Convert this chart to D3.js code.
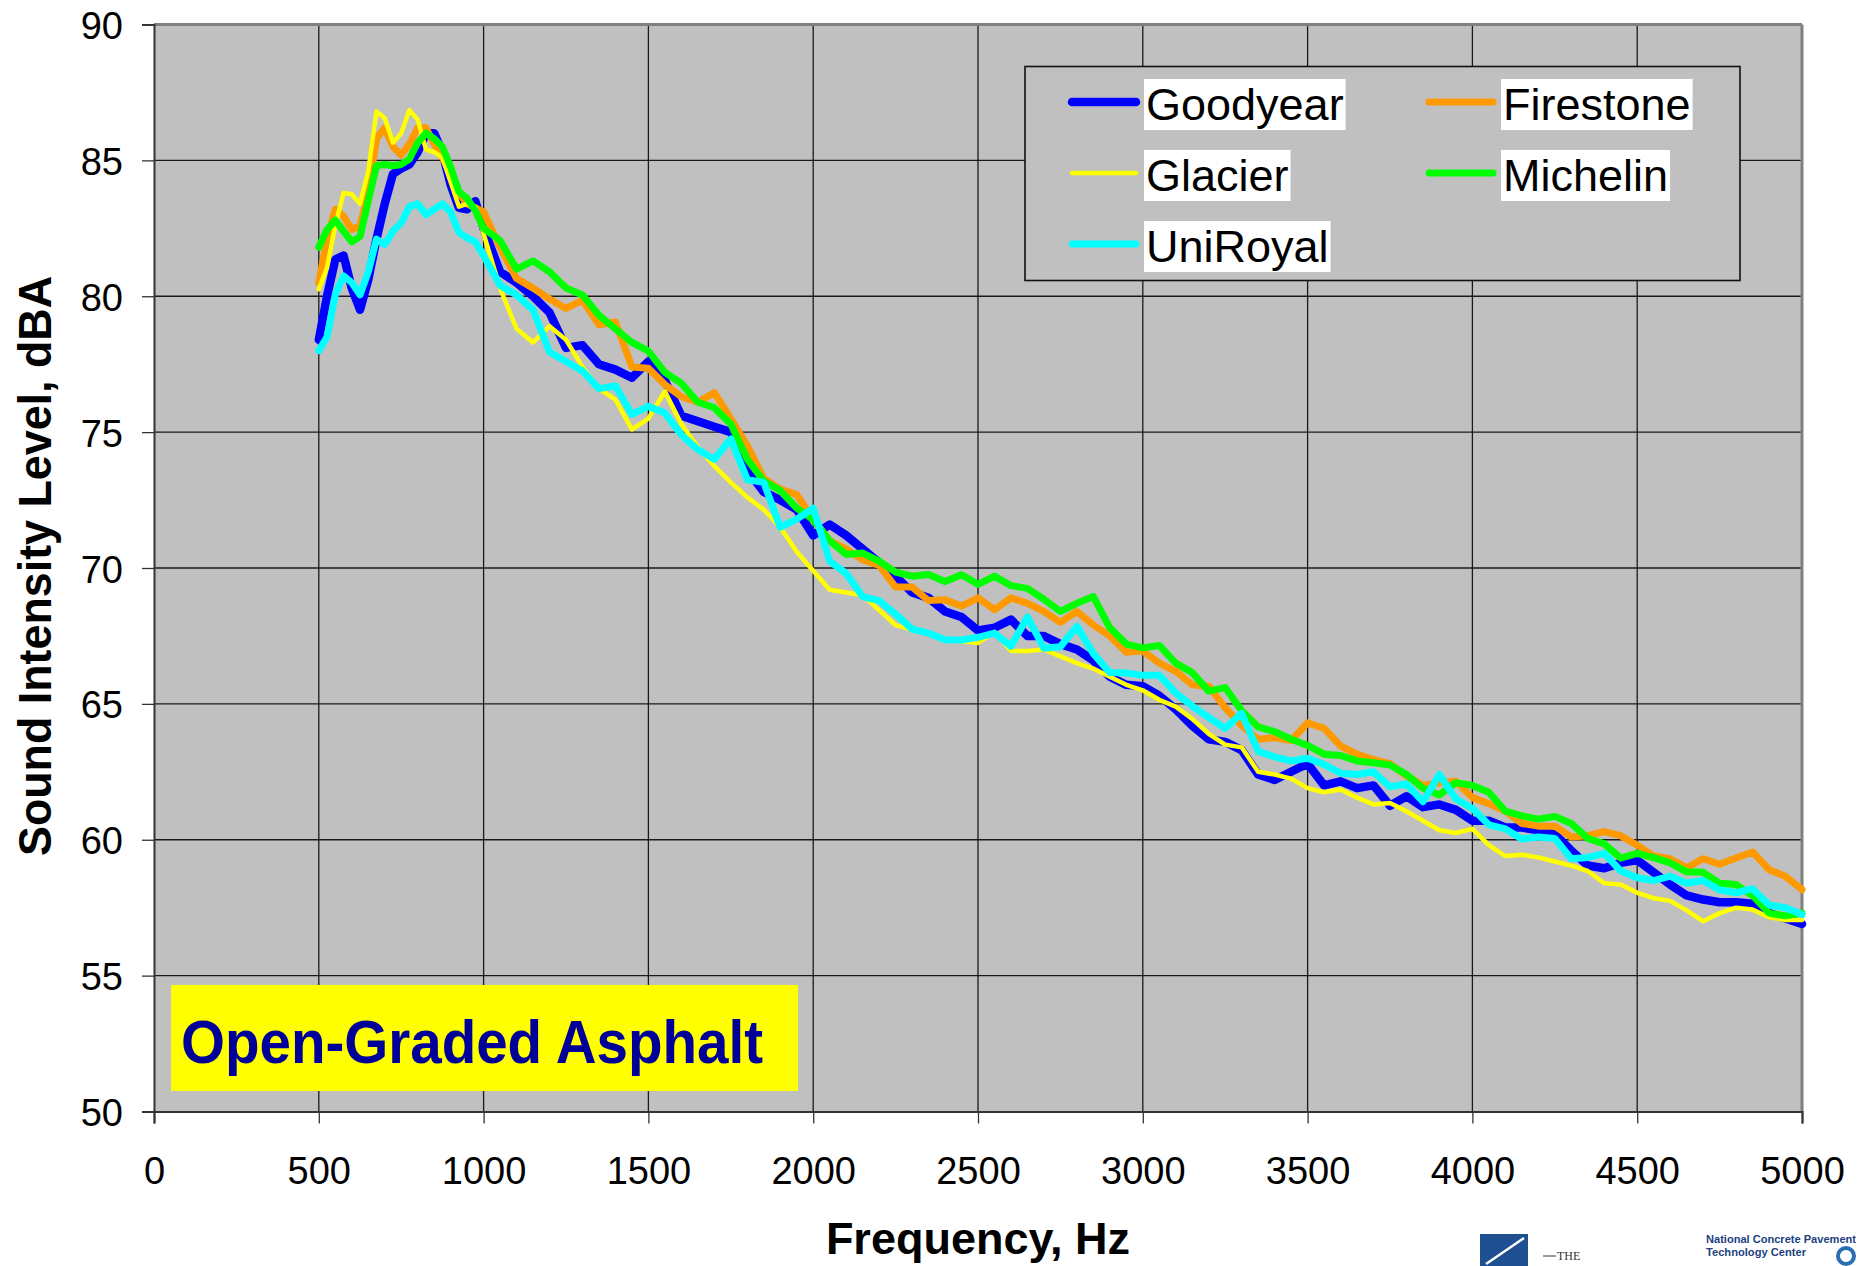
<!DOCTYPE html>
<html><head><meta charset="utf-8">
<script src="https://cdn.jsdelivr.net/npm/d3@7"></script>
<style>html,body{margin:0;padding:0;background:#fff;} svg{display:block;}</style>
</head><body>
<svg id="chart" width="1864" height="1266"></svg>
<script>
const frequencies = [500,525,550,575,600,625,650,675,700,725,750,775,800,825,850,875,900,925,950,975,1000,
  1050,1100,1150,1200,1250,1300,1350,1400,1450,1500,1550,1600,1650,1700,1750,1800,1850,1900,1950,2000,
  2050,2100,2150,2200,2250,2300,2350,2400,2450,2500,2550,2600,2650,2700,2750,2800,2850,2900,2950,3000,
  3050,3100,3150,3200,3250,3300,3350,3400,3450,3500,3550,3600,3650,3700,3750,3800,3850,3900,3950,4000,
  4050,4100,4150,4200,4250,4300,4350,4400,4450,4500,4550,4600,4650,4700,4750,4800,4850,4900,4950,5000];

const goodyear = [78.4,80.0,81.35,81.5,80.3,79.5,80.6,82.1,83.4,84.5,84.7,84.85,85.3,86.0,86.0,85.3,84.1,83.25,83.2,83.5,82.5,
  80.9,80.5,80.0,79.4,78.1,78.2,77.5,77.3,77.0,77.6,
  76.9,75.6,75.4,75.2,75.0,73.6,72.8,72.5,72.15,71.2,
  71.6,71.2,70.7,70.2,69.7,69.1,68.9,68.4,68.2,67.7,
  67.8,68.1,67.5,67.5,67.2,67.0,66.6,66.0,65.7,65.65,
  65.3,64.8,64.2,63.7,63.6,63.3,62.4,62.2,62.5,62.8,
  62.0,62.15,61.9,62.0,61.25,61.6,61.2,61.3,61.1,60.7,
  60.7,60.45,60.45,60.35,60.2,59.6,59.05,58.95,59.15,59.25,
  58.8,58.35,57.95,57.8,57.7,57.7,57.65,57.3,57.1,56.9];

const firestone = [80.5,82.1,83.2,82.95,82.45,82.6,83.8,85.8,86.2,85.5,85.2,85.6,86.2,86.2,85.6,85.1,84.5,83.8,83.4,83.25,83.1,
  81.8,80.65,80.3,79.9,79.55,79.85,78.95,79.05,77.4,77.35,
  76.75,76.3,76.1,76.45,75.5,74.5,73.3,72.9,72.7,71.8,
  71.0,70.7,70.3,70.1,69.3,69.3,68.8,68.83,68.6,68.9,
  68.47,68.9,68.7,68.4,68.0,68.4,67.9,67.5,66.9,66.95,
  66.5,66.2,65.7,65.65,64.85,64.2,63.7,63.75,63.65,64.3,
  64.1,63.45,63.15,62.95,62.8,62.35,62.0,62.1,62.15,61.55,
  61.33,61.05,60.6,60.5,60.5,60.1,60.15,60.3,60.15,59.8,
  59.4,59.3,58.97,59.3,59.1,59.33,59.55,58.9,58.65,58.17];

const glacier = [80.26,81.06,82.6,83.8,83.75,83.4,84.6,86.8,86.55,85.65,86.0,86.85,86.5,85.4,85.3,85.1,84.2,83.3,83.4,83.3,82.3,
  80.3,78.8,78.3,78.9,78.4,77.4,76.6,76.2,75.1,75.5,
  76.5,75.3,74.45,73.75,73.15,72.6,72.15,71.5,70.6,69.9,
  69.2,69.1,69.0,68.45,67.9,67.73,67.6,67.37,67.3,67.24,
  67.65,66.95,66.95,67.0,66.75,66.5,66.3,66.0,65.7,65.5,
  65.15,64.9,64.45,63.9,63.5,63.4,62.5,62.4,62.25,61.9,
  61.75,61.85,61.55,61.3,61.35,61.05,60.7,60.35,60.25,60.4,
  59.8,59.4,59.45,59.35,59.2,59.05,58.85,58.4,58.35,58.05,
  57.85,57.75,57.4,57.0,57.3,57.5,57.43,57.15,57.05,57.05];

const michelin = [81.8,82.45,82.8,82.4,82.0,82.2,83.5,84.8,84.85,84.8,84.85,85.05,85.65,86.0,85.8,85.5,84.75,83.85,83.6,83.15,82.5,
  82.05,81.0,81.3,80.9,80.3,80.05,79.3,78.8,78.3,77.98,
  77.2,76.8,76.1,75.9,75.3,74.0,73.2,72.85,72.2,71.78,
  71.0,70.5,70.55,70.25,69.85,69.7,69.76,69.5,69.75,69.4,
  69.7,69.35,69.25,68.85,68.4,68.7,68.95,67.8,67.2,67.06,
  67.15,66.5,66.15,65.47,65.6,64.75,64.15,63.98,63.7,63.47,
  63.15,63.1,62.9,62.83,62.75,62.4,61.9,61.65,62.1,62.0,
  61.75,61.05,60.88,60.76,60.86,60.6,60.05,59.85,59.32,59.5,
  59.34,59.15,58.82,58.8,58.4,58.35,57.95,57.3,57.2,57.3];

const uniroyal = [78.0,78.5,80.05,80.75,80.5,80.05,80.9,82.1,81.9,82.4,82.7,83.3,83.4,83.0,83.2,83.4,83.1,82.35,82.15,82.0,81.5,
  80.4,80.05,79.5,77.95,77.6,77.25,76.6,76.7,75.65,75.95,
  75.7,74.9,74.36,74.0,74.75,73.25,73.15,71.5,71.8,72.2,
  70.25,69.8,68.95,68.8,68.3,67.75,67.6,67.36,67.35,67.45,
  67.6,67.12,68.2,67.05,67.1,67.85,66.85,66.15,66.14,66.05,
  66.05,65.4,64.92,64.5,64.1,64.65,63.25,63.05,62.9,63.0,
  62.77,62.45,62.4,62.5,61.95,62.05,61.4,62.4,61.5,61.15,
  60.55,60.4,60.03,60.1,60.05,59.3,59.35,59.5,58.85,58.6,
  58.5,58.66,58.4,58.5,58.15,58.05,58.2,57.6,57.5,57.25];

const seriesNames = ["Goodyear","Firestone","Glacier","Michelin","UniRoyal"];
const seriesValues = [goodyear, firestone, glacier, michelin, uniroyal];
const xTickValues = [0,500,1000,1500,2000,2500,3000,3500,4000,4500,5000];
const yTickValues = [50,55,60,65,70,75,80,85,90];
const xAxisTitle = "Frequency, Hz";
const yAxisTitle = "Sound Intensity Level, dBA";
const surfaceLabel = "Open-Graded Asphalt";

// ---- styles (not data) ----
const seriesColors = ["#0000FF","#FF9900","#FFFF00","#00FF00","#00FFFF"];
const seriesWidths = [8.5,7,4.5,7,7];
const FONT = "'Liberation Sans', Arial, Helvetica, sans-serif";

const svg = d3.select("#chart");
const plot = {left:154, right:1802, top:24.5, bottom:1111.5};
const x = d3.scaleLinear().domain([0,5000]).range([plot.left, plot.right]);
const y = d3.scaleLinear().domain([50,90]).range([plot.bottom, plot.top]);

svg.append("rect").attr("width",1864).attr("height",1266).attr("fill","#fff");

// plot background
svg.append("rect").attr("x",plot.left).attr("y",plot.top)
  .attr("width",plot.right-plot.left).attr("height",plot.bottom-plot.top).attr("fill","#C0C0C0");

// gridlines
const grid = svg.append("g").attr("stroke","#1a1a1a").attr("stroke-width",1.3);
grid.selectAll("line.v").data(xTickValues.filter(d=>d>0&&d<5000)).join("line")
  .attr("x1",d=>x(d)).attr("x2",d=>x(d)).attr("y1",plot.top).attr("y2",plot.bottom);
grid.selectAll("line.h").data(yTickValues.filter(d=>d>50&&d<90)).join("line")
  .attr("y1",d=>y(d)).attr("y2",d=>y(d)).attr("x1",plot.left).attr("x2",plot.right);

// plot border (top/right gray)
svg.append("line").attr("x1",plot.left).attr("x2",plot.right).attr("y1",plot.top).attr("y2",plot.top)
  .attr("stroke","#808080").attr("stroke-width",3);
svg.append("line").attr("x1",plot.right).attr("x2",plot.right).attr("y1",plot.top).attr("y2",plot.bottom)
  .attr("stroke","#808080").attr("stroke-width",3);

// axes
const xAxis = d3.axisBottom(x).tickValues(xTickValues).tickSize(12).tickPadding(0).tickFormat(d3.format("d"));
const gx = svg.append("g").attr("transform",`translate(0,${plot.bottom})`).call(xAxis);
gx.select(".domain").attr("stroke","#333").attr("stroke-width",2.2);
gx.selectAll(".tick line").attr("stroke","#333").attr("stroke-width",1.3);
gx.selectAll(".tick text").attr("font-family",FONT).attr("font-size",38).attr("fill","#000")
  .attr("dy",null).attr("y",72);

const yAxis = d3.axisLeft(y).tickValues(yTickValues).tickSize(12).tickPadding(0).tickFormat(d3.format("d"));
const gy = svg.append("g").attr("transform",`translate(${plot.left},0)`).call(yAxis);
gy.select(".domain").attr("stroke","#333").attr("stroke-width",2);
gy.selectAll(".tick line").attr("stroke","#333").attr("stroke-width",1.3);
gy.selectAll(".tick text").attr("font-family",FONT).attr("font-size",38).attr("fill","#000")
  .attr("x",-31).attr("dy",null).attr("y",14);

// series lines
const line = d3.line().x((d,i)=>x(frequencies[i])).y(d=>y(d));
const lg = svg.append("g");
seriesValues.forEach((vals,k)=>{
  lg.append("path").datum(vals).attr("d",line).attr("fill","none")
    .attr("stroke",seriesColors[k]).attr("stroke-width",seriesWidths[k])
    .attr("stroke-linejoin","round").attr("stroke-linecap","round");
});

// legend
const leg = svg.append("g");
leg.append("rect").attr("x",1025).attr("y",66.5).attr("width",715).attr("height",214)
  .attr("fill","#C0C0C0").attr("stroke","#111").attr("stroke-width",1.6);
const legPos = [[1070,120],[1427,120],[1070,191],[1427,191],[1070,262]];
seriesNames.forEach((name,k)=>{
  const [lx,by] = legPos[k];
  leg.append("line").attr("x1",lx+2).attr("x2",lx+66).attr("y1",by-18).attr("y2",by-18)
    .attr("stroke",seriesColors[k]).attr("stroke-width",seriesWidths[k]).attr("stroke-linecap","round");
  const bg = leg.append("rect").attr("fill","#fff");
  const t = leg.append("text").attr("x",lx+76).attr("y",by).attr("font-family",FONT)
    .attr("font-size",45).attr("fill","#000").text(name);
  const bb = t.node().getBBox();
  bg.attr("x",lx+74).attr("y",by-41).attr("width",bb.width+4).attr("height",51);
});

// surface label
svg.append("rect").attr("x",171).attr("y",985).attr("width",627).attr("height",106).attr("fill","#FFFF00");
svg.append("text").attr("x",181).attr("y",1063).attr("font-family",FONT).attr("font-weight","bold")
  .attr("font-size",61).attr("fill","#000099").attr("textLength",582).attr("lengthAdjust","spacingAndGlyphs")
  .text(surfaceLabel);

// axis titles
svg.append("text").attr("x",(plot.left+plot.right)/2).attr("y",1254).attr("text-anchor","middle")
  .attr("font-family",FONT).attr("font-weight","bold").attr("font-size",45).attr("fill","#000").text(xAxisTitle);
svg.append("text").attr("transform","translate(51,566) rotate(-90)").attr("text-anchor","middle")
  .attr("font-family",FONT).attr("font-weight","bold").attr("font-size",46).attr("fill","#000")
  .attr("textLength",580).attr("lengthAdjust","spacingAndGlyphs").text(yAxisTitle);

// footer logos (approximate)
const logo = svg.append("g");
logo.append("rect").attr("x",1480).attr("y",1234).attr("width",48).attr("height",32).attr("fill","#1d4f91");
logo.append("line").attr("x1",1486).attr("y1",1264).attr("x2",1524).attr("y2",1238).attr("stroke","#fff").attr("stroke-width",2.5);
logo.append("line").attr("x1",1543).attr("x2",1556).attr("y1",1256).attr("y2",1256).attr("stroke","#333").attr("stroke-width",1);
logo.append("text").attr("x",1557).attr("y",1260).attr("font-family","'Liberation Serif', serif").attr("font-size",12).attr("fill","#333").text("THE");
logo.append("text").attr("x",1706).attr("y",1243).attr("font-family",FONT).attr("font-weight","bold").attr("font-size",11)
  .attr("fill","#1d3f80").attr("textLength",150).attr("lengthAdjust","spacingAndGlyphs").text("National Concrete Pavement");
logo.append("text").attr("x",1706).attr("y",1256).attr("font-family",FONT).attr("font-weight","bold").attr("font-size",11)
  .attr("fill","#1d3f80").attr("textLength",100).attr("lengthAdjust","spacingAndGlyphs").text("Technology Center");
logo.append("circle").attr("cx",1846).attr("cy",1256).attr("r",8).attr("fill","none").attr("stroke","#2a6fb0").attr("stroke-width",4);
</script>
</body></html>
